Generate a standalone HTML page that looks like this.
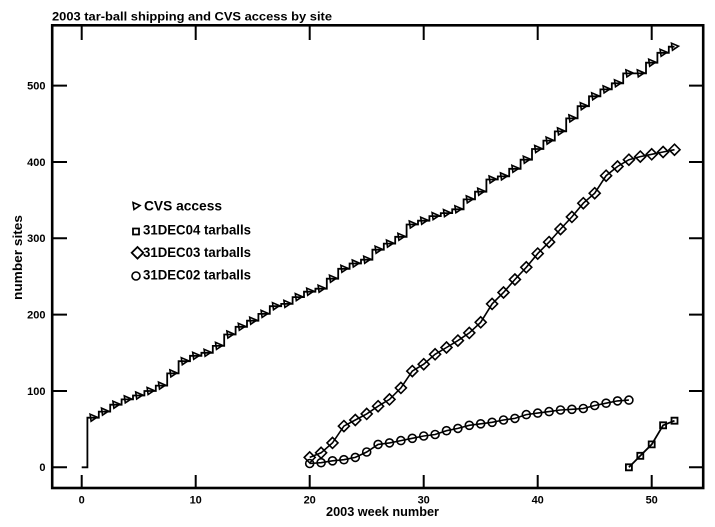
<!DOCTYPE html>
<html>
<head>
<meta charset="utf-8">
<style>
html,body{margin:0;padding:0;background:#fff;}
svg{display:block;}
text{font-family:"Liberation Sans",Arial,sans-serif;font-weight:bold;fill:#000;}
</style>
</head>
<body>
<svg width="715" height="527" viewBox="0 0 715 527" xmlns="http://www.w3.org/2000/svg">
<defs>
  <path id="tri" d="M-3,-3.5 L4,-0.5 L-2,3.5 Z" fill="none" stroke="#000" stroke-width="1.6"/>
  <path id="dia" d="M0,-5.5 L5.5,0 L0,5.5 L-5.5,0 Z" fill="none" stroke="#000" stroke-width="1.6"/>
  <circle id="cir" r="4" fill="none" stroke="#000" stroke-width="1.6"/>
  <path id="sq" d="M-3,-3 h6 v6 h-6 Z" fill="none" stroke="#000" stroke-width="1.8"/>
</defs>

<!-- title -->
<text x="52" y="20.5" font-size="12" textLength="280" lengthAdjust="spacingAndGlyphs">2003 tar-ball shipping and CVS access by site</text>

<!-- frame -->
<rect x="52.2" y="25.3" width="651" height="462.7" fill="none" stroke="#000" stroke-width="2.6"/>

<!-- x ticks bottom & top -->
<g stroke="#000" stroke-width="2">
  <path d="M81.7,488V475 M195.7,488V475 M309.7,488V475 M423.7,488V475 M537.7,488V475 M651.7,488V475"/>
  <path d="M81.7,25V40 M195.7,25V40 M309.7,25V40 M423.7,25V40 M537.7,25V40 M651.7,25V40"/>
  <!-- y ticks left & right -->
  <path d="M52,467.3H67 M52,391H67 M52,314.6H67 M52,238.3H67 M52,162H67 M52,85.6H67"/>
  <path d="M703,467.3H689 M703,391H689 M703,314.6H689 M703,238.3H689 M703,162H689 M703,85.6H689"/>
</g>

<!-- x tick labels -->
<g font-size="11" text-anchor="middle">
  <text x="81.7" y="503.5">0</text>
  <text x="195.7" y="503.5">10</text>
  <text x="309.7" y="503.5">20</text>
  <text x="423.7" y="503.5">30</text>
  <text x="537.7" y="503.5">40</text>
  <text x="651.7" y="503.5">50</text>
</g>
<!-- y tick labels -->
<g font-size="11" text-anchor="end">
  <text x="45.5" y="471.2">0</text>
  <text x="45.5" y="394.9">100</text>
  <text x="45.5" y="318.5">200</text>
  <text x="45.5" y="242.2">300</text>
  <text x="45.5" y="165.9">400</text>
  <text x="45.5" y="89.5">500</text>
</g>

<!-- axis labels -->
<text x="326" y="516" font-size="13" textLength="113" lengthAdjust="spacingAndGlyphs">2003 week number</text>
<text transform="translate(22,300) rotate(-90)" x="0" y="0" font-size="12.5" textLength="85" lengthAdjust="spacingAndGlyphs">number sites</text>

<!-- legend -->
<use href="#tri" x="136" y="206"/>
<text x="144" y="210.3" font-size="13.5" textLength="78" lengthAdjust="spacingAndGlyphs">CVS access</text>
<use href="#sq" x="136" y="231.5"/>
<text x="143" y="234.3" font-size="13.5" textLength="108" lengthAdjust="spacingAndGlyphs">31DEC04 tarballs</text>
<path d="M137.5,247 L143.3,252.8 L137.5,258.6 L131.7,252.8 Z" fill="none" stroke="#000" stroke-width="1.8"/>
<text x="143" y="256.9" font-size="13.5" textLength="108" lengthAdjust="spacingAndGlyphs">31DEC03 tarballs</text>
<use href="#cir" x="136" y="276"/>
<text x="143" y="279.6" font-size="13.5" textLength="108" lengthAdjust="spacingAndGlyphs">31DEC02 tarballs</text>

<!-- CVS access step line -->
<path fill="none" stroke="#000" stroke-width="1.8" d="M81.7,467.3 H87.4 V417.7 H98.8 V411.6 H110.2 V404.7 H121.6 V399.4 H133.0 V395.5 H144.4 V391.0 H155.8 V385.6 H167.2 V373.4 H178.6 V361.2 H190.0 V355.8 H201.4 V352.8 H212.8 V345.9 H224.2 V334.5 H235.6 V326.8 H247.0 V320.7 H258.4 V313.9 H269.8 V306.2 H281.2 V303.9 H292.6 V297.1 H304.0 V291.7 H315.4 V288.7 H326.8 V278.7 H338.2 V268.8 H349.6 V263.5 H361.0 V259.7 H372.4 V249.7 H383.8 V243.6 H395.2 V236.8 H406.6 V224.5 H418.0 V220.7 H429.4 V216.1 H440.8 V213.1 H452.2 V209.3 H463.6 V199.4 H475.0 V191.7 H486.4 V179.5 H497.8 V176.4 H509.2 V168.8 H520.6 V159.7 H532.0 V149.0 H543.4 V140.6 H554.8 V131.4 H566.2 V118.4 H577.6 V106.2 H589.0 V96.3 H600.4 V89.4 H611.8 V83.3 H623.2 V73.4 H634.6 V73.4 H646.0 V62.7 H657.4 V52.8 H668.8 V46.7 H674.5"/>
<g>
<use href="#tri" x="93.1" y="417.7"/><use href="#tri" x="104.5" y="411.6"/><use href="#tri" x="115.9" y="404.7"/><use href="#tri" x="127.3" y="399.4"/><use href="#tri" x="138.7" y="395.5"/><use href="#tri" x="150.1" y="391.0"/><use href="#tri" x="161.5" y="385.6"/><use href="#tri" x="172.9" y="373.4"/><use href="#tri" x="184.3" y="361.2"/><use href="#tri" x="195.7" y="355.8"/><use href="#tri" x="207.1" y="352.8"/><use href="#tri" x="218.5" y="345.9"/><use href="#tri" x="229.9" y="334.5"/><use href="#tri" x="241.3" y="326.8"/><use href="#tri" x="252.7" y="320.7"/><use href="#tri" x="264.1" y="313.9"/><use href="#tri" x="275.5" y="306.2"/><use href="#tri" x="286.9" y="303.9"/><use href="#tri" x="298.3" y="297.1"/><use href="#tri" x="309.7" y="291.7"/><use href="#tri" x="321.1" y="288.7"/><use href="#tri" x="332.5" y="278.7"/><use href="#tri" x="343.9" y="268.8"/><use href="#tri" x="355.3" y="263.5"/><use href="#tri" x="366.7" y="259.7"/><use href="#tri" x="378.1" y="249.7"/><use href="#tri" x="389.5" y="243.6"/><use href="#tri" x="400.9" y="236.8"/><use href="#tri" x="412.3" y="224.5"/><use href="#tri" x="423.7" y="220.7"/><use href="#tri" x="435.1" y="216.1"/><use href="#tri" x="446.5" y="213.1"/><use href="#tri" x="457.9" y="209.3"/><use href="#tri" x="469.3" y="199.4"/><use href="#tri" x="480.7" y="191.7"/><use href="#tri" x="492.1" y="179.5"/><use href="#tri" x="503.5" y="176.4"/><use href="#tri" x="514.9" y="168.8"/><use href="#tri" x="526.3" y="159.7"/><use href="#tri" x="537.7" y="149.0"/><use href="#tri" x="549.1" y="140.6"/><use href="#tri" x="560.5" y="131.4"/><use href="#tri" x="571.9" y="118.4"/><use href="#tri" x="583.3" y="106.2"/><use href="#tri" x="594.7" y="96.3"/><use href="#tri" x="606.1" y="89.4"/><use href="#tri" x="617.5" y="83.3"/><use href="#tri" x="628.9" y="73.4"/><use href="#tri" x="640.3" y="73.4"/><use href="#tri" x="651.7" y="62.7"/><use href="#tri" x="663.1" y="52.8"/><use href="#tri" x="674.5" y="46.7"/>
</g>

<!-- 31DEC03 diamonds -->
<polyline fill="none" stroke="#000" stroke-width="1.6" points="309.7,457.4 321.1,452.8 332.5,442.9 343.9,426.1 355.3,420.0 366.7,413.9 378.1,406.2 389.5,399.4 400.9,387.9 412.3,371.1 423.7,364.2 435.1,354.3 446.5,347.5 457.9,340.6 469.3,332.9 480.7,322.3 492.1,303.9 503.5,292.5 514.9,279.5 526.3,267.3 537.7,253.6 549.1,242.1 560.5,229.1 571.9,216.9 583.3,203.2 594.7,193.2 606.1,175.7 617.5,166.5 628.9,159.7 640.3,156.6 651.7,154.3 663.1,152.0 674.5,149.7"/>
<g>
<use href="#dia" x="309.7" y="457.4"/><use href="#dia" x="321.1" y="452.8"/><use href="#dia" x="332.5" y="442.9"/><use href="#dia" x="343.9" y="426.1"/><use href="#dia" x="355.3" y="420.0"/><use href="#dia" x="366.7" y="413.9"/><use href="#dia" x="378.1" y="406.2"/><use href="#dia" x="389.5" y="399.4"/><use href="#dia" x="400.9" y="387.9"/><use href="#dia" x="412.3" y="371.1"/><use href="#dia" x="423.7" y="364.2"/><use href="#dia" x="435.1" y="354.3"/><use href="#dia" x="446.5" y="347.5"/><use href="#dia" x="457.9" y="340.6"/><use href="#dia" x="469.3" y="332.9"/><use href="#dia" x="480.7" y="322.3"/><use href="#dia" x="492.1" y="303.9"/><use href="#dia" x="503.5" y="292.5"/><use href="#dia" x="514.9" y="279.5"/><use href="#dia" x="526.3" y="267.3"/><use href="#dia" x="537.7" y="253.6"/><use href="#dia" x="549.1" y="242.1"/><use href="#dia" x="560.5" y="229.1"/><use href="#dia" x="571.9" y="216.9"/><use href="#dia" x="583.3" y="203.2"/><use href="#dia" x="594.7" y="193.2"/><use href="#dia" x="606.1" y="175.7"/><use href="#dia" x="617.5" y="166.5"/><use href="#dia" x="628.9" y="159.7"/><use href="#dia" x="640.3" y="156.6"/><use href="#dia" x="651.7" y="154.3"/><use href="#dia" x="663.1" y="152.0"/><use href="#dia" x="674.5" y="149.7"/>
</g>

<!-- 31DEC02 circles -->
<polyline fill="none" stroke="#000" stroke-width="1.6" points="309.7,463.5 321.1,462.7 332.5,460.8 343.9,459.7 355.3,457.4 366.7,452.0 378.1,444.4 389.5,442.9 400.9,440.6 412.3,438.3 423.7,436.0 435.1,434.5 446.5,430.7 457.9,428.4 469.3,425.3 480.7,423.8 492.1,422.3 503.5,420.0 514.9,418.4 526.3,414.6 537.7,413.1 549.1,411.6 560.5,410.0 571.9,409.3 583.3,408.5 594.7,405.5 606.1,403.2 617.5,400.9 628.9,400.1"/>
<g>
<use href="#cir" x="309.7" y="463.5"/><use href="#cir" x="321.1" y="462.7"/><use href="#cir" x="332.5" y="460.8"/><use href="#cir" x="343.9" y="459.7"/><use href="#cir" x="355.3" y="457.4"/><use href="#cir" x="366.7" y="452.0"/><use href="#cir" x="378.1" y="444.4"/><use href="#cir" x="389.5" y="442.9"/><use href="#cir" x="400.9" y="440.6"/><use href="#cir" x="412.3" y="438.3"/><use href="#cir" x="423.7" y="436.0"/><use href="#cir" x="435.1" y="434.5"/><use href="#cir" x="446.5" y="430.7"/><use href="#cir" x="457.9" y="428.4"/><use href="#cir" x="469.3" y="425.3"/><use href="#cir" x="480.7" y="423.8"/><use href="#cir" x="492.1" y="422.3"/><use href="#cir" x="503.5" y="420.0"/><use href="#cir" x="514.9" y="418.4"/><use href="#cir" x="526.3" y="414.6"/><use href="#cir" x="537.7" y="413.1"/><use href="#cir" x="549.1" y="411.6"/><use href="#cir" x="560.5" y="410.0"/><use href="#cir" x="571.9" y="409.3"/><use href="#cir" x="583.3" y="408.5"/><use href="#cir" x="594.7" y="405.5"/><use href="#cir" x="606.1" y="403.2"/><use href="#cir" x="617.5" y="400.9"/><use href="#cir" x="628.9" y="400.1"/>
</g>

<!-- 31DEC04 squares -->
<polyline fill="none" stroke="#000" stroke-width="1.8" points="628.9,467.3 640.3,455.8 651.7,444.4 663.1,425.3 674.5,420.7"/>
<g>
<use href="#sq" x="628.9" y="467.3"/><use href="#sq" x="640.3" y="455.8"/><use href="#sq" x="651.7" y="444.4"/><use href="#sq" x="663.1" y="425.3"/><use href="#sq" x="674.5" y="420.7"/>
</g>
</svg>
</body>
</html>
